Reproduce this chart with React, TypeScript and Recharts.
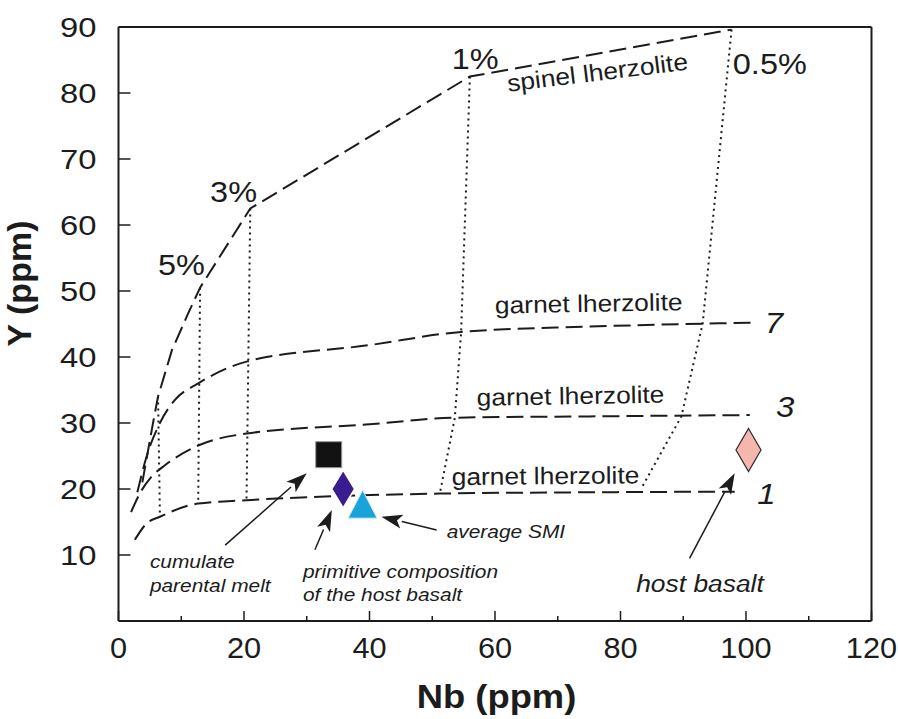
import React from 'react';
import { ScatterChart, Scatter, XAxis, YAxis, ReferenceLine, ReferenceDot, Label } from 'recharts';

// ---------- data ----------
const xTicks = [0, 10, 20, 30, 40, 50, 60, 70, 80, 90, 100, 110, 120];
const yTicks = [10, 20, 30, 40, 50, 60, 70, 80, 90];

// melting curves  [Nb, Y]
const spinelCurve = [[3.8, 21], [5.5, 30], [6.3, 34], [8.5, 41], [11.1, 46.6], [13, 50.5], [21, 62.5], [56, 82.5], [97.7, 89.6]];
const garnet7Curve = [[3.0, 19.5], [4.5, 25], [6.6, 30], [9, 33.5], [12.7, 36], [20.4, 39.3], [40, 41.8], [54.6, 43.8], [75, 44.6], [101.1, 45.2]];
const garnet3Curve = [[2.0, 16.5], [3.5, 19.5], [5.2, 21.8], [7.4, 23.6], [13, 26.7], [20.4, 28.4], [40, 29.8], [53.6, 30.8], [75, 31.0], [100.6, 31.2]];
const garnet1Curve = [[2.6, 12.3], [4.5, 14.8], [6.6, 15.8], [12.7, 17.8], [20.4, 18.3], [51.2, 19.3], [75, 19.5], [98.2, 19.6]];

// melting-degree isopleths
const iso7 = [[6.3, 34], [6.6, 15.8]];
const iso5 = [[13, 50.5], [12.7, 17.8]];
const iso3 = [[21, 62.5], [20.4, 18.3]];
const iso1 = [[56, 82.5], [54.6, 43.8], [53.6, 30.8], [51.2, 19.3]];
const iso05 = [[97.7, 89.6], [93.1, 45.1], [89.7, 31.0], [83.5, 20.4]];

// samples
const cumulateMelt = [[33.5, 25.2]];
const primitiveHost = [[35.8, 20.0]];
const averageSMI = [[38.9, 17.7]];
const hostBasalt = [[100.4, 25.9]];

// annotations (text, Nb, Y)
const pctLabels: [string, number, number][] = [['5%', 6.3, 52.4], ['3%', 14.6, 63.5], ['1%', 53.1, 83.7], ['0.5%', 97.9, 82.9]];
const rockLabels: [string, number, number, number][] = [
  ['spinel lherzolite', 62.1, 80.2, -7],
  ['garnet lherzolite', 60.0, 46.6, -1],
  ['garnet lherzolite', 57.1, 32.6, -1],
  ['garnet lherzolite', 53.1, 20.6, -0.5],
];
const curveNumbers: [string, number, number][] = [['7', 103.0, 43.6], ['3', 104.8, 30.9], ['1', 101.8, 17.8]];
const notes: [string[], number, number, number][] = [
  [['cumulate', 'parental melt'], 5.0, 8.0, 19],
  [['primitive composition', 'of the host basalt'], 29.4, 6.5, 19],
  [['average SMI'], 52.3, 12.6, 19],
  [['host basalt'], 82.5, 4.4, 24],
];
const arrows: [number, number, number, number][] = [
  [17.0, 11.5, 30.0, 22.4],
  [31.3, 10.8, 34.0, 16.8],
  [50.7, 13.8, 41.9, 15.8],
  [91.0, 9.5, 98.2, 22.4],
];

// ---------- helpers ----------
const FONT = '"Liberation Sans", Arial, Helvetica, sans-serif';
const INK = '#1c1c1c';
const SX = 1.12;
const toPts = (a: number[][]) => a.map(([x, y]) => ({ x, y }));

const Nothing = () => <g />;

const XTick = (props: any) => {
  const { x, y, payload } = props;
  const v = payload.value;
  const major = v % 20 === 0;
  return (
    <g>
      <line x1={x} x2={x} y1={y} y2={y - (major ? 10 : 5)} stroke={INK} strokeWidth={1.5} />
      {major && (
        <text transform={`translate(${x},${y + 37}) scale(1.06,1)`} textAnchor="middle" fontSize={29} fontFamily={FONT} fill={INK}>
          {v}
        </text>
      )}
    </g>
  );
};

const YTick = (props: any) => {
  const { x, y, payload } = props;
  return (
    <g>
      <line x1={x} x2={x + 12} y1={y} y2={y} stroke={INK} strokeWidth={1.5} />
      <text transform={`translate(${x - 22},${y + 10}) scale(${SX + 0.05},1)`} textAnchor="end" fontSize={28} fontFamily={FONT} fill={INK}>
        {payload.value}
      </text>
    </g>
  );
};

const SquareShape = (p: any) => (
  <rect x={p.cx - 13} y={p.cy - 13} width={26} height={26} fill="#121212" stroke="#9a9a9a" strokeWidth={1} />
);
const PurpleDiamond = (p: any) => (
  <polygon points={`${p.cx},${p.cy - 19} ${p.cx + 11.5},${p.cy} ${p.cx},${p.cy + 19} ${p.cx - 11.5},${p.cy}`} fill="#3a1c8e" stroke="#ffffff" strokeWidth={1.5} />
);
const CyanTriangle = (p: any) => (
  <polygon points={`${p.cx},${p.cy - 14} ${p.cx + 14.5},${p.cy + 14} ${p.cx - 14.5},${p.cy + 14}`} fill="#18a4d8" stroke="#d6eef8" strokeWidth={1} />
);
const PinkDiamond = (p: any) => (
  <polygon points={`${p.cx},${p.cy - 21.5} ${p.cx + 12.5},${p.cy} ${p.cx},${p.cy + 21.5} ${p.cx - 12.5},${p.cy}`} fill="#f5b6ae" stroke="#2a2a2a" strokeWidth={1.2} />
);

const ArrowShape = (p: any) => {
  const { x1, y1, x2, y2 } = p;
  const ang = Math.atan2(y2 - y1, x2 - x1);
  const L = 21, W = 7;
  const c = Math.cos(ang), s = Math.sin(ang);
  const bx = x2 - L * c, by = y2 - L * s;
  const nx = -s * W, ny = c * W;
  const ix = x2 - (L - 5) * c, iy = y2 - (L - 5) * s;
  return (
    <g>
      <line x1={x1} y1={y1} x2={bx} y2={by} stroke={INK} strokeWidth={1.5} />
      <polygon points={`${x2},${y2} ${bx + nx},${by + ny} ${ix},${iy} ${bx - nx},${by - ny}`} fill={INK} />
    </g>
  );
};

const txt = (content: React.ReactNode, opts: { size: number; italic?: boolean; bold?: boolean; rot?: number; anchor?: string; sx?: number }) =>
  (p: any) => (
    <text
      transform={`translate(${p.cx},${p.cy}) rotate(${opts.rot || 0}) scale(${opts.sx ?? SX},1)`}
      textAnchor={opts.anchor || 'start'}
      fontSize={opts.size}
      fontStyle={opts.italic ? 'italic' : 'normal'}
      fontWeight={opts.bold ? 'bold' : 'normal'}
      fontFamily={FONT}
      fill={INK}
    >
      {content}
    </text>
  );

const dashLine = { stroke: INK, strokeWidth: 2, strokeDasharray: '17 7' };
const dotLine = { stroke: INK, strokeWidth: 2, strokeDasharray: '2 4' };

export default function App() {
  return (
    <div style={{ width: 898, height: 719 }}>
      <style>{`html,body{margin:0;padding:0;overflow:hidden;background:#fff}`}</style>
      <ScatterChart width={898} height={719} margin={{ top: 27, right: 26.5, bottom: 68, left: 58.5 }}>
        <XAxis
          type="number"
          dataKey="x"
          domain={[0, 120]}
          ticks={xTicks}
          interval={0}
          allowDataOverflow
          height={30}
          tickSize={0}
          tickMargin={0}
          tickLine={false}
          tick={<XTick />}
          axisLine={{ stroke: INK, strokeWidth: 2 }}
        >
          <Label
            content={(props: any) => {
              const vb = props.viewBox;
              return (
                <text transform={`translate(${vb.x + vb.width / 2 + 1.5},${vb.y + 87.3}) scale(${SX},1)`} textAnchor="middle" fontSize={32.5} fontWeight="bold" fontFamily={FONT} fill={INK}>
                  Nb (ppm)
                </text>
              );
            }}
          />
        </XAxis>
        <YAxis
          type="number"
          dataKey="y"
          domain={[0, 90]}
          ticks={yTicks}
          interval={0}
          allowDataOverflow
          width={60}
          tickSize={0}
          tickMargin={0}
          tickLine={false}
          tick={<YTick />}
          axisLine={{ stroke: INK, strokeWidth: 2 }}
        >
          <Label
            content={(props: any) => {
              const vb = props.viewBox;
              return (
                <text transform={`translate(${vb.x - 27.5},${vb.y + vb.height / 2 - 40.5}) rotate(-90)`} textAnchor="middle" fontSize={34} fontWeight="bold" fontFamily={FONT} fill={INK}>
                  Y (ppm)
                </text>
              );
            }}
          />
        </YAxis>
        <ReferenceLine y={90} stroke={INK} strokeWidth={2} />
        <ReferenceLine x={120} stroke={INK} strokeWidth={2} />

        <Scatter data={toPts(iso7)} line={dotLine} shape={Nothing} isAnimationActive={false} />
        <Scatter data={toPts(iso5)} line={dotLine} shape={Nothing} isAnimationActive={false} />
        <Scatter data={toPts(iso3)} line={dotLine} shape={Nothing} isAnimationActive={false} />
        <Scatter data={toPts(iso1)} line={dotLine} shape={Nothing} isAnimationActive={false} />
        <Scatter data={toPts(iso05)} line={dotLine} shape={Nothing} isAnimationActive={false} />

        <Scatter data={toPts(spinelCurve)} line={dashLine} lineJointType="linear" shape={Nothing} isAnimationActive={false} />
        <Scatter data={toPts(garnet7Curve)} line={dashLine} lineJointType="monotoneX" shape={Nothing} isAnimationActive={false} />
        <Scatter data={toPts(garnet3Curve)} line={dashLine} lineJointType="monotoneX" shape={Nothing} isAnimationActive={false} />
        <Scatter data={toPts(garnet1Curve)} line={dashLine} lineJointType="monotoneX" shape={Nothing} isAnimationActive={false} />

        {arrows.map(([a, b, c, d], i) => (
          <ReferenceLine key={'ar' + i} segment={[{ x: a, y: b }, { x: c, y: d }]} shape={ArrowShape} />
        ))}

        <Scatter data={toPts(cumulateMelt)} shape={SquareShape} isAnimationActive={false} />
        <Scatter data={toPts(primitiveHost)} shape={PurpleDiamond} isAnimationActive={false} />
        <Scatter data={toPts(averageSMI)} shape={CyanTriangle} isAnimationActive={false} />
        <Scatter data={toPts(hostBasalt)} shape={PinkDiamond} isAnimationActive={false} />

        {pctLabels.map(([t, x, y], i) => (
          <ReferenceDot key={'p' + i} x={x} y={y} r={0} shape={txt(t, { size: 29.5, sx: 1.1 })} />
        ))}
        {rockLabels.map(([t, x, y, r], i) => (
          <ReferenceDot key={'r' + i} x={x} y={y} r={0} shape={txt(t, { size: 24, rot: r, sx: 1.1 })} />
        ))}
        {curveNumbers.map(([t, x, y], i) => (
          <ReferenceDot key={'n' + i} x={x} y={y} r={0} shape={txt(t, { size: 30, italic: true, sx: 1.1 })} />
        ))}
        {notes.map(([lines, x, y, size], i) => (
          <ReferenceDot
            key={'m' + i}
            x={x}
            y={y}
            r={0}
            shape={txt(
              lines.map((l, j) => (
                <tspan key={j} x={0} dy={j === 0 ? 0 : size * 1.23}>
                  {l}
                </tspan>
              )),
              { size, italic: true, sx: 1.1 }
            )}
          />
        ))}
      </ScatterChart>
    </div>
  );
}
